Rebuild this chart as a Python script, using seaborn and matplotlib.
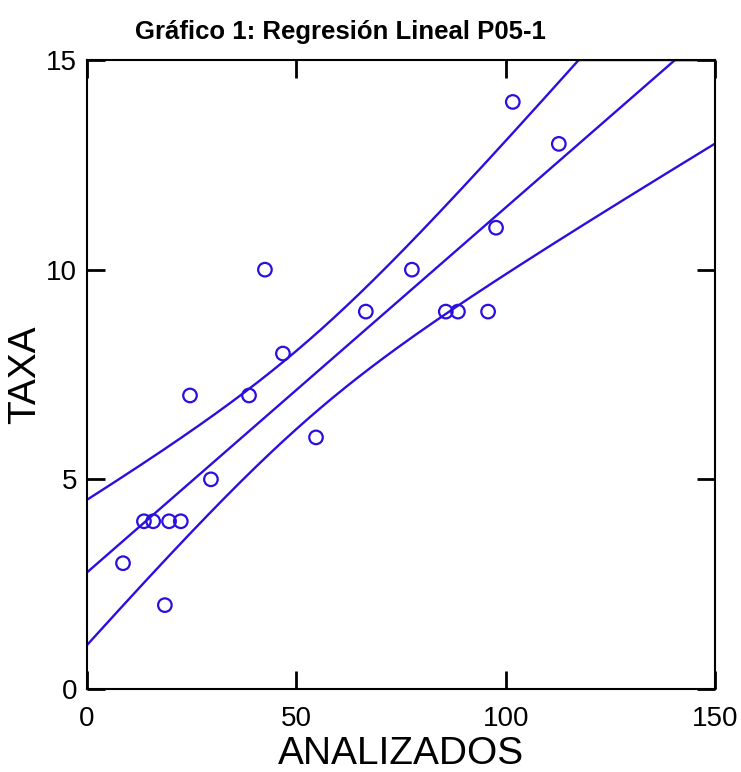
import numpy as np
import pandas as pd
import matplotlib
matplotlib.use("Agg")
import matplotlib.pyplot as plt
import seaborn as sns

analizados = [8.6, 13.6, 15.8, 18.6, 19.6, 22.4, 24.6, 29.6, 38.7, 42.5,
              46.8, 54.7, 66.6, 77.6, 85.7, 88.6, 95.8, 97.7, 101.7, 112.7]
taxa = [3, 4, 4, 2, 4, 4, 7, 5, 7, 10,
        8, 6, 9, 10, 9, 9, 9, 11, 14, 13]
x_ticks = [0, 50, 100, 150]
y_ticks = [0, 5, 10, 15]

df = pd.DataFrame({"ANALIZADOS": analizados, "TAXA": taxa})

sns.set_theme(style="white")
plt.rcParams['font.family'] = ['Liberation Sans', 'DejaVu Sans']
plt.rcParams['text.color'] = 'black'
plt.rcParams['axes.labelcolor'] = 'black'
plt.rcParams['xtick.color'] = 'black'
plt.rcParams['ytick.color'] = 'black'

fig = plt.figure(figsize=(7.41, 7.72), dpi=100)
ax = fig.add_axes([87/741, 1-689/772, 628/741, 629/772])

blue = '#2a0fe0'

# regression + confidence band for the mean
x = np.asarray(analizados, float)
y = np.asarray(taxa, float)
n = len(x)
b1, b0 = np.polyfit(x, y, 1)
resid = y - (b0 + b1 * x)
s = np.sqrt(np.sum(resid**2) / (n - 2))
t = 2.7
xs = np.linspace(0, 150, 400)
yhat = b0 + b1 * xs
se = s * np.sqrt(1/n + (xs - x.mean())**2 / np.sum((x - x.mean())**2))
top = 15
for yy in (yhat, yhat + t*se, yhat - t*se):
    sns.lineplot(x=xs, y=np.minimum(yy, top), ax=ax, color=blue, lw=1.7)

sns.scatterplot(data=df, x="ANALIZADOS", y="TAXA", ax=ax, s=95,
                facecolors='none', edgecolor=blue, linewidth=1.6, zorder=5)

ax.set_xlim(0, 150)
ax.set_ylim(0, 15)
ax.set_xticks(x_ticks)
ax.set_yticks(y_ticks)
ax.set_xticklabels([str(v) for v in x_ticks], fontsize=20)
ax.set_yticklabels([str(v) for v in y_ticks], fontsize=20)
ax.tick_params(direction='in', length=13, width=2, color='black',
               top=True, right=True, bottom=True, left=True)
ax.tick_params(axis='x', pad=12)
ax.tick_params(axis='y', pad=7)
for sp in ax.spines.values():
    sp.set_color('black')
    sp.set_linewidth(1.5)
ax.set_xlabel("ANALIZADOS", fontsize=28, labelpad=3)
ax.set_ylabel("TAXA", fontsize=28, labelpad=2)
fig.text(340/741, 1-32/772, "Gráfico 1: Regresión Lineal P05-1", fontsize=18.5,
         fontweight='bold', ha='center', va='center')

fig.savefig("out.png", dpi=100)
